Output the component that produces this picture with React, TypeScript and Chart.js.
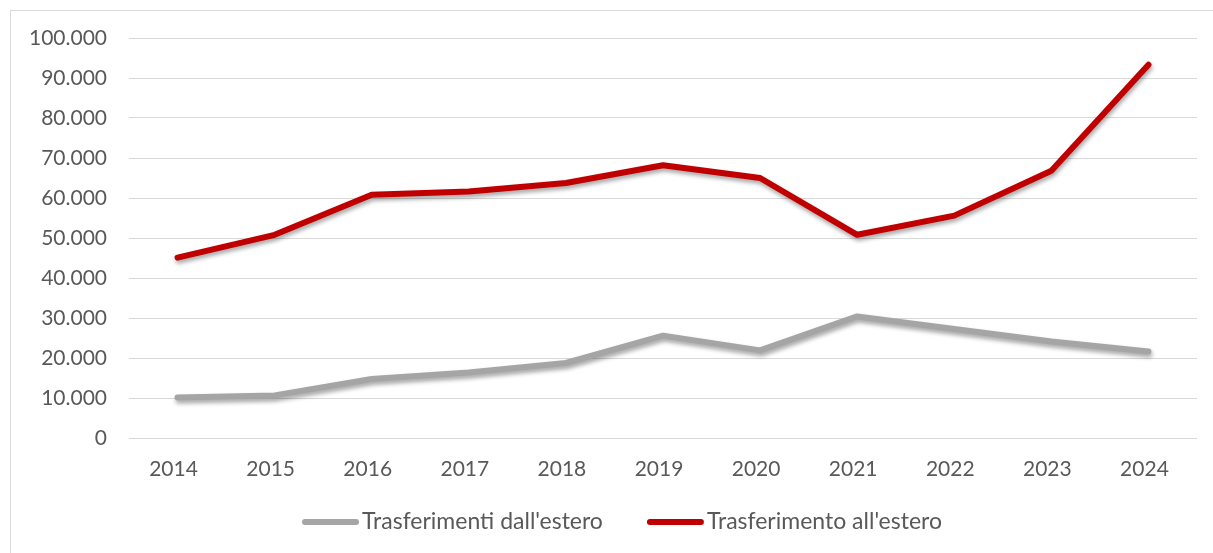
import React, { useEffect, useRef } from 'react';
import { Chart, registerables } from 'chart.js';

Chart.register(...registerables);

const years = ['2014', '2015', '2016', '2017', '2018', '2019', '2020', '2021', '2022', '2023', '2024'];
const dallEstero = [10150, 10650, 14750, 16400, 18750, 25600, 21900, 30400, 27250, 24150, 21650];
const allEstero = [45100, 50800, 60800, 61650, 63750, 68200, 65000, 50800, 55600, 66800, 93300];
const seriesNames = ["Trasferimenti dall'estero", "Trasferimento all'estero"];
const seriesColors = ['#A5A5A5', '#C00000'];
const yMin = 0;
const yMax = 100000;
const yStep = 10000;

const FONT = 'Lato, "Liberation Sans", sans-serif';
const TEXT = '#595959';

function fmt(v: number): string {
  return String(Math.round(v)).replace(/\B(?=(\d{3})+(?!\d))/g, '.');
}

const shadowPlugin = {
  id: 'lineShadow',
  beforeDatasetDraw(chart: any) {
    const ctx = chart.ctx;
    ctx.save();
    ctx.shadowColor = 'rgba(0,0,0,0.35)';
    ctx.shadowBlur = 4;
    ctx.shadowOffsetX = 1;
    ctx.shadowOffsetY = 3;
  },
  afterDatasetDraw(chart: any) {
    chart.ctx.restore();
  },
};

const legendPlugin = {
  id: 'customLegend',
  afterDraw(chart: any) {
    const ctx = chart.ctx;
    const ds = chart.data.datasets;
    const lineLen = 57;
    const gap = 3;
    const itemGap = 44;
    ctx.save();
    ctx.font = `23px ${FONT}`;
    const widths = ds.map((d: any) => ctx.measureText(d.label).width);
    const total = widths.reduce((a: number, w: number) => a + lineLen + gap + w, 0) + itemGap * (ds.length - 1);
    let x = chart.width / 2 + 10 - total / 2;
    const y = chart.height - 31;
    ds.forEach((d: any, i: number) => {
      ctx.strokeStyle = d.borderColor;
      ctx.lineWidth = 6;
      ctx.lineCap = 'round';
      ctx.beginPath();
      ctx.moveTo(x + 3, y);
      ctx.lineTo(x + lineLen - 3, y);
      ctx.stroke();
      ctx.fillStyle = TEXT;
      ctx.textBaseline = 'middle';
      ctx.textAlign = 'left';
      ctx.fillText(d.label, x + lineLen + gap, y);
      x += lineLen + gap + widths[i] + itemGap;
    });
    ctx.restore();
  },
};

export default function App() {
  const ref = useRef<HTMLCanvasElement | null>(null);

  useEffect(() => {
    if (!ref.current) return;
    const chart = new Chart(ref.current, {
      type: 'line',
      data: {
        labels: years,
        datasets: [
          {
            label: seriesNames[0],
            data: dallEstero,
            borderColor: seriesColors[0],
            backgroundColor: seriesColors[0],
            borderWidth: 6,
            borderCapStyle: 'round',
            borderJoinStyle: 'round',
            pointRadius: 0,
            tension: 0,
          },
          {
            label: seriesNames[1],
            data: allEstero,
            borderColor: seriesColors[1],
            backgroundColor: seriesColors[1],
            borderWidth: 6,
            borderCapStyle: 'round',
            borderJoinStyle: 'round',
            pointRadius: 0,
            tension: 0,
          },
        ],
      },
      options: {
        animation: false,
        responsive: false,
        maintainAspectRatio: false,
        layout: { padding: { left: 0, right: 16, top: 27, bottom: 0 } },
        plugins: {
          tooltip: { enabled: false },
          legend: { display: false },
        },
        scales: {
          x: {
            offset: true,
            grid: { display: false },
            border: { display: false },
            ticks: { font: { family: FONT, size: 21 }, color: TEXT, padding: 11, maxRotation: 0, labelOffset: -4 },
            afterFit: (s: any) => {
              s.height = 115;
              s.paddingLeft = 0;
              s.paddingRight = 0;
            },
          },
          y: {
            min: yMin,
            max: yMax,
            grid: { color: '#D9D9D9', lineWidth: 1, drawTicks: false },
            border: { display: false },
            ticks: {
              stepSize: yStep,
              font: { family: FONT, size: 21 },
              color: TEXT,
              padding: 22,
              callback: (v: any) => fmt(Number(v)),
            },
            afterFit: (s: any) => {
              s.width = 118;
              s.paddingTop = 0;
              s.paddingBottom = 0;
            },
          },
        },
      },
      plugins: [shadowPlugin, legendPlugin],
    });
    return () => chart.destroy();
  }, []);

  return (
    <div
      style={{
        position: 'absolute',
        left: 10,
        top: 10,
        width: 1202,
        height: 542,
        borderTop: '1px solid #D9D9D9',
        borderLeft: '1px solid #D9D9D9',
        background: '#fff',
      }}
    >
      <canvas ref={ref} width={1202} height={542} style={{ display: 'block' }} />
    </div>
  );
}
